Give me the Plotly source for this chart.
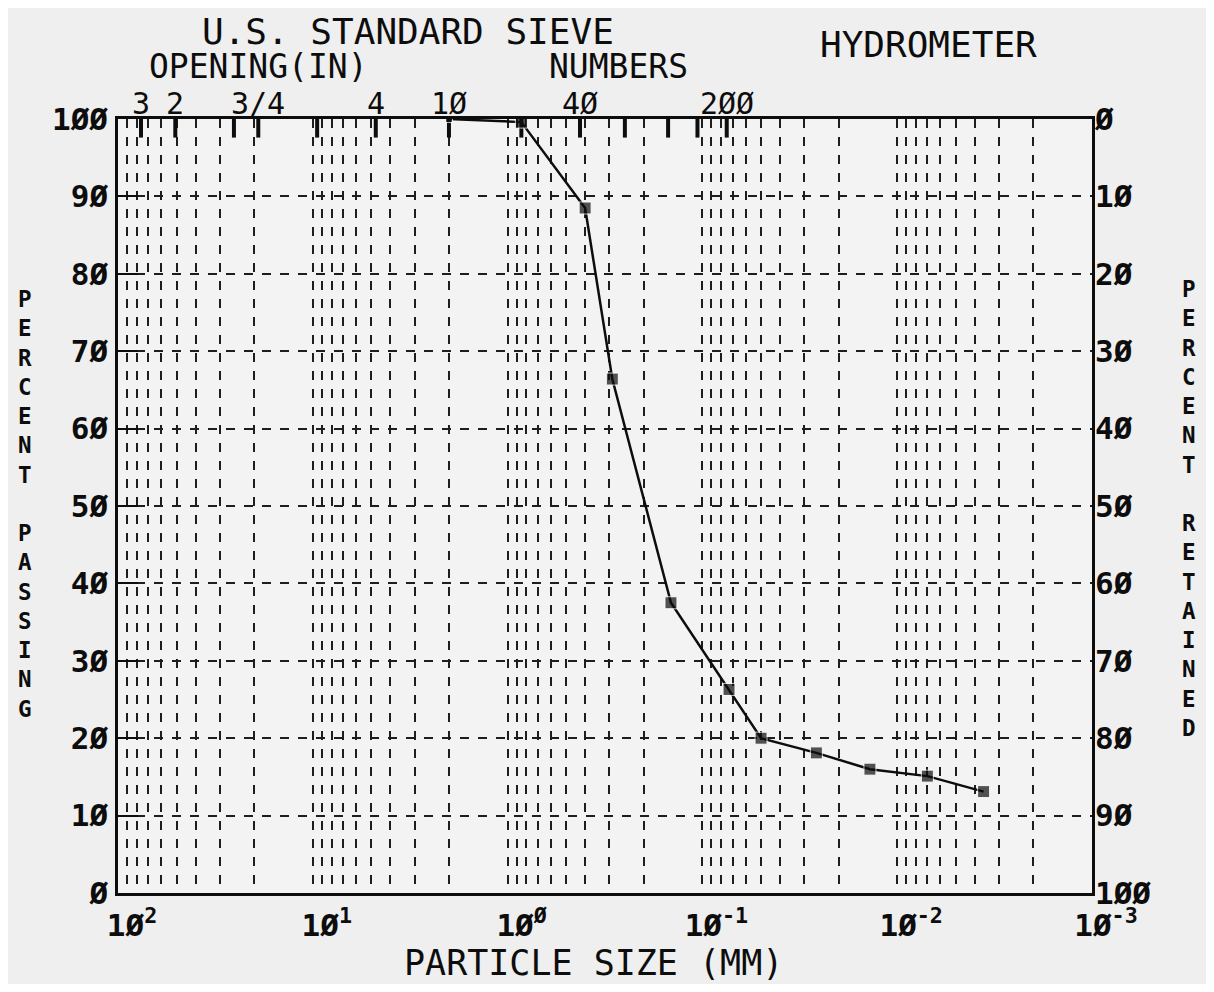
import math
import plotly.graph_objects as go

# ---- data ----
particle_size_mm = [2.0, 0.85, 0.40, 0.29, 0.145, 0.073, 0.050, 0.026, 0.0138, 0.0070, 0.0036]
percent_passing = [100, 99.6, 88.5, 66.4, 37.5, 26.3, 20.0, 18.1, 16.0, 15.1, 13.1]

x_tick_vals = [100, 10, 1, 0.1, 0.01, 0.001]
x_tick_text = ["1Ø<sup>2</sup>", "1Ø<sup>1</sup>", "1Ø<sup>Ø</sup>", "1Ø<sup>-1</sup>", "1Ø<sup>-2</sup>", "1Ø<sup>-3</sup>"]
y_tick_vals = [0, 10, 20, 30, 40, 50, 60, 70, 80, 90, 100]
y_tick_text = ["Ø", "1Ø", "2Ø", "3Ø", "4Ø", "5Ø", "6Ø", "7Ø", "8Ø", "9Ø", "1ØØ"]

# sieve labels and their openings in mm (3 in, 2 in, 3/4 in, #4, #10, #40, #200)
sieve_labels = ["3", "2", "3/4", "4", "1Ø", "4Ø", "2ØØ"]
sieve_label_mm = [76.2, 50.8, 19.05, 4.75, 2.0, 0.425, 0.075]
# sieve marks along the top edge
sieve_mark_mm = [76.2, 50.8, 25.4, 19.05, 9.5, 4.75, 2.0, 0.85, 0.425, 0.25, 0.15, 0.106, 0.075]

FONT = "DejaVu Sans Mono"
INK = "#0d0d0d"
GRID = "#1e1e1e"

OFF = 8                      # page body offset
W, H = 1198, 976
X0, X1, Y0, Y1 = 118, 1092, 119, 893   # frame in screen pixels
L, R, T, B = X0 - OFF, W - (X1 - OFF), Y0 - OFF, H - (Y1 - OFF)
PW, PH = X1 - X0, Y1 - Y0


def px_x(px):
    return (px - X0) / PW


def px_y(py):
    return (Y1 - py) / PH


fig = go.Figure()

# sieve marks (short thick bars hanging from the top edge)
mx, my = [], []
for s in sieve_mark_mm:
    mx += [s, s, None]
    my += [100, 97.6, None]
fig.add_trace(go.Scatter(x=mx, y=my, mode="lines", line=dict(color=INK, width=4),
                         showlegend=False, hoverinfo="skip"))

fig.add_trace(go.Scatter(
    x=particle_size_mm, y=percent_passing, mode="lines+markers",
    line=dict(color=INK, width=2.5),
    marker=dict(symbol="square", size=[7] + [12] * (len(percent_passing) - 1), color=INK),
    showlegend=False, hoverinfo="skip"))
fig.add_trace(go.Scatter(
    x=particle_size_mm, y=[100 - v for v in percent_passing], yaxis="y2",
    mode="lines", line=dict(width=0), opacity=0, showlegend=False, hoverinfo="skip"))

tickfont = dict(size=31, family=FONT, color=INK, weight="bold")
fig.update_layout(
    width=W, height=H,
    margin=dict(l=L, r=R, t=T, b=B, autoexpand=False),
    paper_bgcolor="#efefef", plot_bgcolor="#f3f3f3",
    font=dict(family=FONT, color=INK, size=30),
    xaxis=dict(type="log", range=[2, -3], autorange=False, automargin=False,
               tickvals=x_tick_vals, ticktext=x_tick_text, ticklabelshift=-14,
               ticklabelstandoff=3,
               showline=True, linecolor=INK, linewidth=2.5, mirror=True,
               showgrid=True, gridcolor=GRID, gridwidth=2, griddash="dash",
               minor=dict(dtick="D1", showgrid=True, gridcolor=GRID, gridwidth=1.6, griddash="dash"),
               ticks="", tickfont=tickfont, zeroline=False),
    yaxis=dict(range=[0, 100], autorange=False, automargin=False,
               tickvals=y_tick_vals, ticktext=y_tick_text,
               showline=True, linecolor=INK, linewidth=2.5, mirror=True,
               showgrid=True, gridcolor=GRID, gridwidth=1.6, griddash="dash",
               ticks="inside", ticklen=20, tickwidth=2, tickcolor=INK,
               ticklabelstandoff=1, tickfont=tickfont, zeroline=False),
    yaxis2=dict(overlaying="y", side="right", range=[100, 0], autorange=False, automargin=False,
                tickvals=y_tick_vals, ticktext=y_tick_text,
                showgrid=False, ticks="", tickfont=tickfont, zeroline=False,
                ticklabelstandoff=2),
)

ann = []
ann.append(dict(text="U.S. STANDARD SIEVE", x=px_x(408), y=px_y(31), font=dict(size=36)))
ann.append(dict(text="OPENING(IN)", x=px_x(258), y=px_y(66), font=dict(size=33)))
ann.append(dict(text="NUMBERS", x=px_x(618), y=px_y(67), font=dict(size=33)))
ann.append(dict(text="HYDROMETER", x=px_x(928), y=px_y(45), font=dict(size=36)))
for a in ann:
    a.update(xref="paper")
for lab, mm in zip(sieve_labels, sieve_label_mm):
    ann.append(dict(text=lab, xref="x", x=math.log10(mm), y=px_y(103), font=dict(size=30)))
ann.append(dict(text="PARTICLE SIZE (MM)", xref="paper", x=px_x(593), y=px_y(963), font=dict(size=35)))

ann.append(dict(text="<br>".join(list("PERCENT") + [" "] + list("PASSING")),
                xref="paper", x=px_x(25), y=px_y(504), font=dict(size=22.5, weight="bold")))
ann.append(dict(text="<br>".join(list("PERCENT") + [" "] + list("RETAINED")),
                xref="paper", x=px_x(1189), y=px_y(508), font=dict(size=22.5, weight="bold")))

for a in ann:
    a.update(yref="paper", showarrow=False, xanchor="center", yanchor="middle")
    a["font"].setdefault("family", FONT)
    a["font"].setdefault("color", INK)
fig.update_layout(annotations=ann)

fig.write_html("out.html")
